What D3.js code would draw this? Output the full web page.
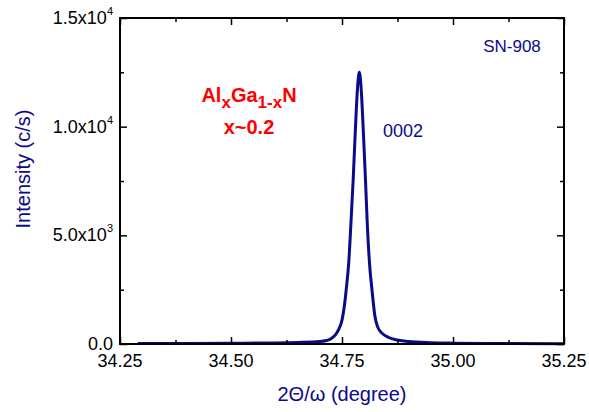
<!DOCTYPE html>
<html>
<head>
<meta charset="utf-8">
<script src="https://cdn.jsdelivr.net/npm/d3@7/dist/d3.min.js"></script>
<style>
  body { margin: 0; background: #fff; }
  svg { display: block; font-family: "Liberation Sans", Arial, sans-serif; }
</style>
</head>
<body>
<svg id="chart" width="589" height="412"></svg>
<script>
// Data
const twoTheta = [34.290, 34.400, 34.500, 34.600, 34.650, 34.700, 34.715, 34.725, 34.735, 34.742,
  34.750, 34.755, 34.760, 34.765, 34.770, 34.775, 34.780, 34.785, 34.789,
  34.793, 34.798, 34.803, 34.807, 34.812, 34.818, 34.824, 34.830, 34.840, 34.855,
  34.875, 34.900, 34.950, 35.000, 35.100, 35.250];
const intensity = [20, 25, 35, 50, 70, 110, 160, 240, 420, 650,
  1100, 1700, 2600, 3700, 5500, 7500, 9800, 11800, 12500,
  11800, 9800, 7500, 5500, 3700, 2400, 1300, 800, 500, 300,
  180, 110, 60, 40, 25, 15];
const xTicks = [34.25, 34.50, 34.75, 35.00, 35.25];
const xTickLabels = ["34.25", "34.50", "34.75", "35.00", "35.25"];
const xMinorTicks = [34.375, 34.625, 34.875, 35.125];
const yTicks = [0, 5000, 10000, 15000];
const yTickMantissa = ["0.0", "5.0x10", "1.0x10", "1.5x10"];
const yTickExponent = ["", "3", "4", "4"];
const yMinorTicks = [2500, 7500, 12500];

const svg = d3.select("#chart");
const m = { left: 120, right: 564, top: 18, bottom: 344 };
const x = d3.scaleLinear().domain([34.25, 35.25]).range([m.left, m.right]);
const y = d3.scaleLinear().domain([0, 15000]).range([m.bottom, m.top]);
const navy = "#0a0a8a";

// data line
const pts = twoTheta.map((d, i) => [d, intensity[i]]);
svg.append("path")
  .datum(pts)
  .attr("fill", "none")
  .attr("stroke", navy)
  .attr("stroke-width", 3)
  .attr("stroke-linejoin", "round")
  .attr("d", d3.line().x(d => x(d[0])).y(d => y(d[1])).curve(d3.curveMonotoneX));

// axes with inward ticks
function addAxis(gen, tx, ty, ticks, size) {
  const g = svg.append("g").attr("transform", `translate(${tx},${ty})`)
    .call(gen.tickValues(ticks).tickSize(size).tickFormat(""));
  g.select(".domain").remove();
  g.selectAll("line").attr("stroke", "#000").attr("stroke-width", 1.5);
  return g;
}
addAxis(d3.axisTop(x), 0, m.bottom, xTicks, 7);
addAxis(d3.axisTop(x), 0, m.bottom, xMinorTicks, 4);
addAxis(d3.axisBottom(x), 0, m.top, xTicks, 7);
addAxis(d3.axisBottom(x), 0, m.top, xMinorTicks, 4);
addAxis(d3.axisRight(y), m.left, 0, yTicks, 7);
addAxis(d3.axisRight(y), m.left, 0, yMinorTicks, 4);
addAxis(d3.axisLeft(y), m.right, 0, yTicks, 7);
addAxis(d3.axisLeft(y), m.right, 0, yMinorTicks, 4);

// frame
svg.append("rect")
  .attr("x", m.left).attr("y", m.top)
  .attr("width", m.right - m.left).attr("height", m.bottom - m.top)
  .attr("fill", "none").attr("stroke", "#000").attr("stroke-width", 2);

// x tick labels
svg.append("g").selectAll("text").data(xTicks).join("text")
  .attr("x", d => x(d)).attr("y", 367)
  .attr("text-anchor", "middle")
  .attr("font-size", 18).attr("fill", "#000")
  .text((d, i) => xTickLabels[i]);

// y tick labels
const yl = svg.append("g").selectAll("text").data(yTicks).join("text")
  .attr("x", 113).attr("y", d => y(d) + 6)
  .attr("text-anchor", "end")
  .attr("font-size", 18).attr("fill", "#000");
yl.append("tspan").text((d, i) => yTickMantissa[i]);
yl.append("tspan").attr("font-size", 11).attr("dy", -9).text((d, i) => yTickExponent[i]);

// axis titles
svg.append("text")
  .attr("x", (m.left + m.right) / 2).attr("y", 401)
  .attr("text-anchor", "middle").attr("font-size", 20).attr("fill", navy)
  .text("2\u0398/\u03c9 (degree)");
svg.append("text")
  .attr("transform", "translate(30,169) rotate(-90)")
  .attr("text-anchor", "middle").attr("font-size", 20).attr("fill", navy)
  .text("Intensity (c/s)");

// annotations
svg.append("text").attr("x", 512).attr("y", 52)
  .attr("text-anchor", "middle")
  .attr("font-size", 17).attr("fill", navy).text("SN-908");
svg.append("text").attr("x", 383).attr("y", 137)
  .attr("font-size", 18).attr("fill", navy).text("0002");

const red = "#ff0000";
const t1 = svg.append("text").attr("x", 249).attr("y", 102)
  .attr("text-anchor", "middle").attr("font-size", 20)
  .attr("font-weight", "bold").attr("fill", red);
t1.append("tspan").text("Al");
t1.append("tspan").attr("font-size", 17).attr("dy", 6).text("x");
t1.append("tspan").attr("dy", -6).text("Ga");
t1.append("tspan").attr("font-size", 17).attr("dy", 6).text("1-x");
t1.append("tspan").attr("dy", -6).text("N");
svg.append("text").attr("x", 249).attr("y", 134)
  .attr("text-anchor", "middle").attr("font-size", 20)
  .attr("font-weight", "bold").attr("fill", red).text("x~0.2");
</script>
</body>
</html>
